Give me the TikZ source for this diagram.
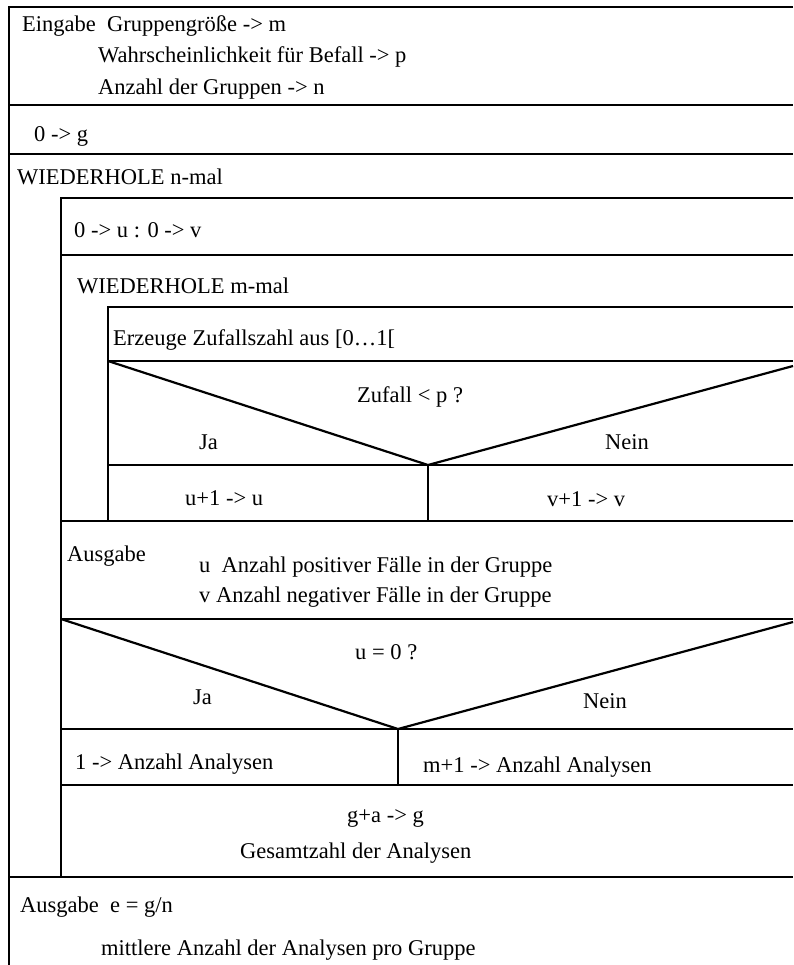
\documentclass[tikz,border=0pt]{standalone}
\usepackage{fontspec}
\setmainfont{Liberation Serif}
\tikzset{
    x=1pt, y=-1pt, % one unit = one pixel of the page, y runs downwards
    }

\begin{document}
\begin{tikzpicture}[
struktline/.style={line width=2.2pt, black},
txt/.style={anchor=base west, inner sep=0pt, font=\fontsize{22.5}{27}\selectfont},
]
\useasboundingbox (0,0) rectangle (793,965);

\coordinate (apexA) at (428,465);
\coordinate (apexB) at (398,729);

% outer frame
\draw[struktline] (793,7) -- (9,7) -- (9,965);
\draw[struktline] (9,105) -- (793,105);
\draw[struktline] (9,154) -- (793,154);
\draw[struktline] (9,877) -- (793,877);

% body of WIEDERHOLE n-mal
\draw[struktline] (793,198) -- (61,198) -- (61,878);
\draw[struktline] (61,255) -- (793,255);
\draw[struktline] (61,521) -- (793,521);
\draw[struktline] (61,619) -- (793,619);
\draw[struktline] (61,729) -- (793,729);
\draw[struktline] (61,785) -- (793,785);

% body of WIEDERHOLE m-mal
\draw[struktline] (793,307) -- (108,307) -- (108,521);
\draw[struktline] (108,361) -- (793,361);
\draw[struktline] (108,465) -- (793,465);

% decisions
\draw[struktline] (108,361) -- (apexA) -- (793,366);
\draw[struktline] (apexA) -- (428,521);
\draw[struktline] (61,619) -- (apexB) -- (793,622);
\draw[struktline] (apexB) -- (398,785);

\node[txt] (eingabe) at (22,32) {Eingabe\ \ Gruppengröße -> m};
\node[txt] (wahrsch) at (98,63) {Wahrscheinlichkeit für Befall -> p};
\node[txt] (anzahl) at (98,95) {Anzahl der Gruppen -> n};
\node[txt] (init) at (34,142) {0 -> g};
\node[txt] (loopn) at (17,185) {WIEDERHOLE n-mal};
\node[txt] (reset) at (74,238) {0 -> u : 0 -> v};
\node[txt] (loopm) at (77,293) {WIEDERHOLE m-mal};
\node[txt] (zufall) at (113,345) {Erzeuge Zufallszahl aus [0…1[};
\node[txt] (frageA) at (357,402) {Zufall < p ?};
\node[txt] (jaA) at (199,449) {Ja};
\node[txt] (neinA) at (605,449) {Nein};
\node[txt] (incu) at (185,505) {u+1 -> u};
\node[txt] (incv) at (547,506) {v+1 -> v};
\node[txt] (ausgabeA) at (67,561) {Ausgabe};
\node[txt] (posfall) at (199,572) {u\ \ Anzahl positiver Fälle in der Gruppe};
\node[txt] (negfall) at (199,602) {v Anzahl negativer Fälle in der Gruppe};
\node[txt] (frageB) at (355,659) {u = 0 ?};
\node[txt] (jaB) at (193,704) {Ja};
\node[txt] (neinB) at (583,708) {Nein};
\node[txt] (einsA) at (75,769) {1 -> Anzahl Analysen};
\node[txt] (mplus) at (423,772) {m+1 -> Anzahl Analysen};
\node[txt] (summe) at (347,822) {g+a -> g};
\node[txt] (gesamt) at (240,858) {Gesamtzahl der Analysen};
\node[txt] (ausgabeB) at (20,912) {Ausgabe\ \ e = g/n};
\node[txt] (mittel) at (101,955) {mittlere Anzahl der Analysen pro Gruppe};
\end{tikzpicture}
\end{document}
